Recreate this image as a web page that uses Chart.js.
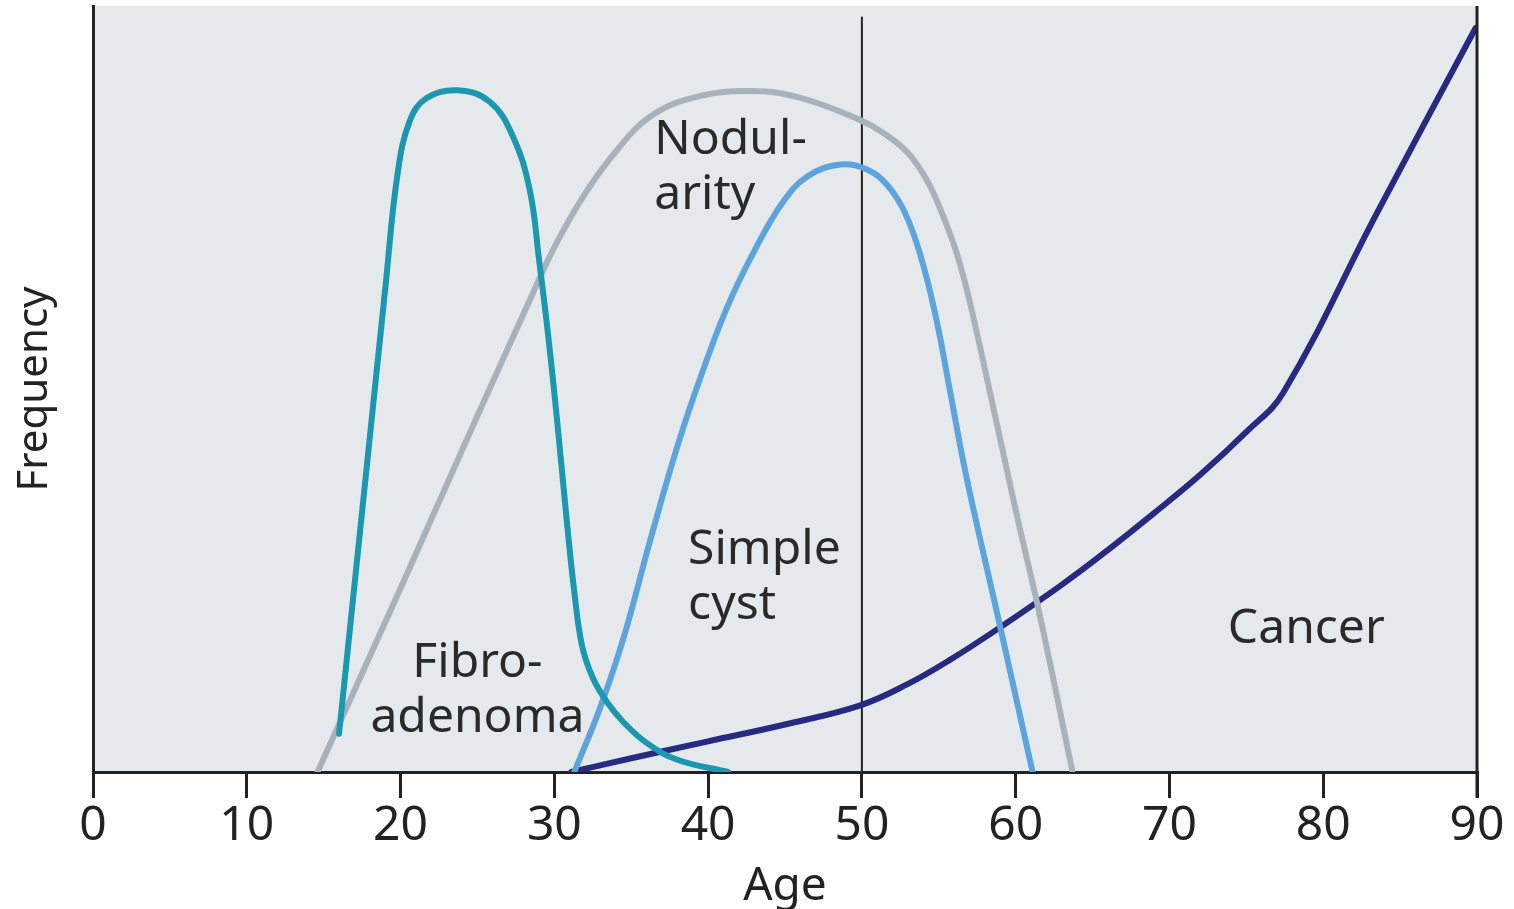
<!DOCTYPE html>
<html>
<head>
<meta charset="utf-8">
<script src="https://cdn.jsdelivr.net/npm/chart.js@4"></script>
<style>
  html, body { margin: 0; padding: 0; background: #fff; }
  #wrap { width: 1514px; height: 909px; }
</style>
</head>
<body>
<div id="wrap"><canvas id="chart" width="1514" height="909"></canvas></div>
<script>
// ages (x) and frequency (y, arbitrary 0-100)
const fibroAge = [16, 17.5, 19, 19.8, 20.6, 21.7, 23.7, 25.8, 27.3, 28.4, 29, 29.6, 30.2, 30.8, 31.3, 31.8, 32.5, 33.4, 34.5, 36, 38, 41.3];
const fibroFreq = [5, 34, 63, 78, 85, 88, 89, 87.5, 83, 76, 67, 57, 45.5, 33, 23.5, 16.5, 12.3, 9.2, 6.5, 3.8, 1.6, 0];

const nodAge = [14.6, 20, 25, 28.4, 30, 32, 34, 36.2, 39, 42.7, 46, 49.9, 51.5, 53, 54.3, 55.3, 56.2, 57, 58.5, 60.1, 61.6, 63.7];
const nodFreq = [0, 24, 46.5, 61.6, 68.5, 75.5, 81, 85.5, 88, 88.9, 88, 85.1, 83.3, 80.8, 77, 72.5, 67.5, 61.5, 48, 33.3, 20.2, 0];

const cystAge = [31.3, 33, 34.5, 36.2, 38, 39.5, 41.2, 43, 44.9, 46.5, 48.6, 50.3, 51.7, 52.8, 53.8, 54.8, 55.8, 56.8, 59, 61.1];
const cystFreq = [0, 8.5, 17.5, 30, 42.5, 51.5, 60.5, 68, 74.5, 77.8, 79.3, 78.7, 76.5, 73, 67.5, 59.5, 49, 38.5, 18.9, 0];

const cancerAge = [31.1, 35, 40, 45, 49.9, 53, 55.7, 59, 62.9, 65.5, 69, 72, 75, 77.4, 83.5, 89.9];
const cancerFreq = [0, 1.8, 4, 6.2, 8.7, 11.5, 14.6, 18.9, 24.3, 28.2, 33.8, 38.8, 44.4, 49.5, 73, 97.1];

const markerAge = [50, 50];
const markerFreq = [0, 98.5];

const xTicks = [0, 10, 20, 30, 40, 50, 60, 70, 80, 90];

const labels = [
  { text: ["Nodul-", "arity"], x: 36.5, y: 82.5, align: "left" },
  { text: ["Simple", "cyst"], x: 38.7, y: 29, align: "left" },
  { text: ["Fibro-", "adenoma"], x: 25, y: 14.2, align: "center" },
  { text: ["Cancer"], x: 78.9, y: 18.6, align: "center" }
];

const FONT = "'Noto Sans', sans-serif";

function pts(xs, ys) {
  return xs.map((x, i) => ({ x: x, y: ys[i] }));
}

const areaPlugin = {
  id: "area",
  beforeDraw(chart) {
    const { ctx, chartArea } = chart;
    ctx.save();
    ctx.fillStyle = "#e5e9ec";
    ctx.fillRect(chartArea.left, chartArea.top, chartArea.right - chartArea.left, chartArea.bottom - chartArea.top);
    ctx.restore();
  },
  afterDraw(chart) {
    const { ctx, chartArea, scales } = chart;
    ctx.save();
    ctx.strokeStyle = "#222";
    ctx.lineWidth = 3;
    ctx.beginPath();
    ctx.moveTo(chartArea.right, chartArea.top);
    ctx.lineTo(chartArea.right, chartArea.bottom + 26);
    ctx.stroke();
    ctx.fillStyle = "#2a2a2a";
    ctx.font = "48px " + FONT;
    ctx.textBaseline = "middle";
    labels.forEach(l => {
      ctx.textAlign = l.align;
      const px = scales.x.getPixelForValue(l.x);
      const py = scales.y.getPixelForValue(l.y);
      l.text.forEach((t, i) => ctx.fillText(t, px, py + i * 55));
    });
    ctx.restore();
  }
};

new Chart(document.getElementById("chart"), {
  type: "line",
  data: {
    datasets: [
      { label: "Fibroadenoma", data: pts(fibroAge, fibroFreq), borderColor: "#1c97b0" },
      { label: "Nodularity", data: pts(nodAge, nodFreq), borderColor: "#a8b2ba" },
      { label: "Simple cyst", data: pts(cystAge, cystFreq), borderColor: "#5da4dc" },
      { label: "Cancer", data: pts(cancerAge, cancerFreq), borderColor: "#262a80" },
      { label: "50", data: pts(markerAge, markerFreq), borderColor: "#222", borderWidth: 2, tension: 0 }
    ]
  },
  options: {
    responsive: false,
    animation: false,
    layout: { padding: { left: 10, right: 37, top: 6, bottom: 0 } },
    elements: {
      line: { borderWidth: 6, tension: 0.4, fill: false, borderJoinStyle: "round", borderCapStyle: "round" },
      point: { radius: 0 }
    },
    plugins: { legend: { display: false }, tooltip: { enabled: false } },
    scales: {
      x: {
        type: "linear",
        min: 0,
        max: 90,
        afterBuildTicks(scale) { scale.ticks = xTicks.map(v => ({ value: v })); },
        afterFit(scale) { scale.height = 137; },
        ticks: { font: { size: 48, family: FONT }, color: "#222", padding: 0 },
        grid: { drawOnChartArea: false, drawTicks: true, tickLength: 26, color: "#222", lineWidth: 3 },
        border: { display: true, color: "#222", width: 3 },
        title: { display: true, text: "Age", font: { size: 46, family: FONT }, color: "#222", padding: { top: 0, bottom: -5 } }
      },
      y: {
        min: 0,
        max: 100,
        afterFit(scale) { scale.width = 83; },
        ticks: { display: false },
        grid: { display: false },
        border: { display: true, color: "#222", width: 3 },
        title: { display: true, text: "Frequency", font: { size: 42, family: FONT }, color: "#222", padding: 0 }
      }
    }
  },
  plugins: [areaPlugin]
});
</script>
</body>
</html>
